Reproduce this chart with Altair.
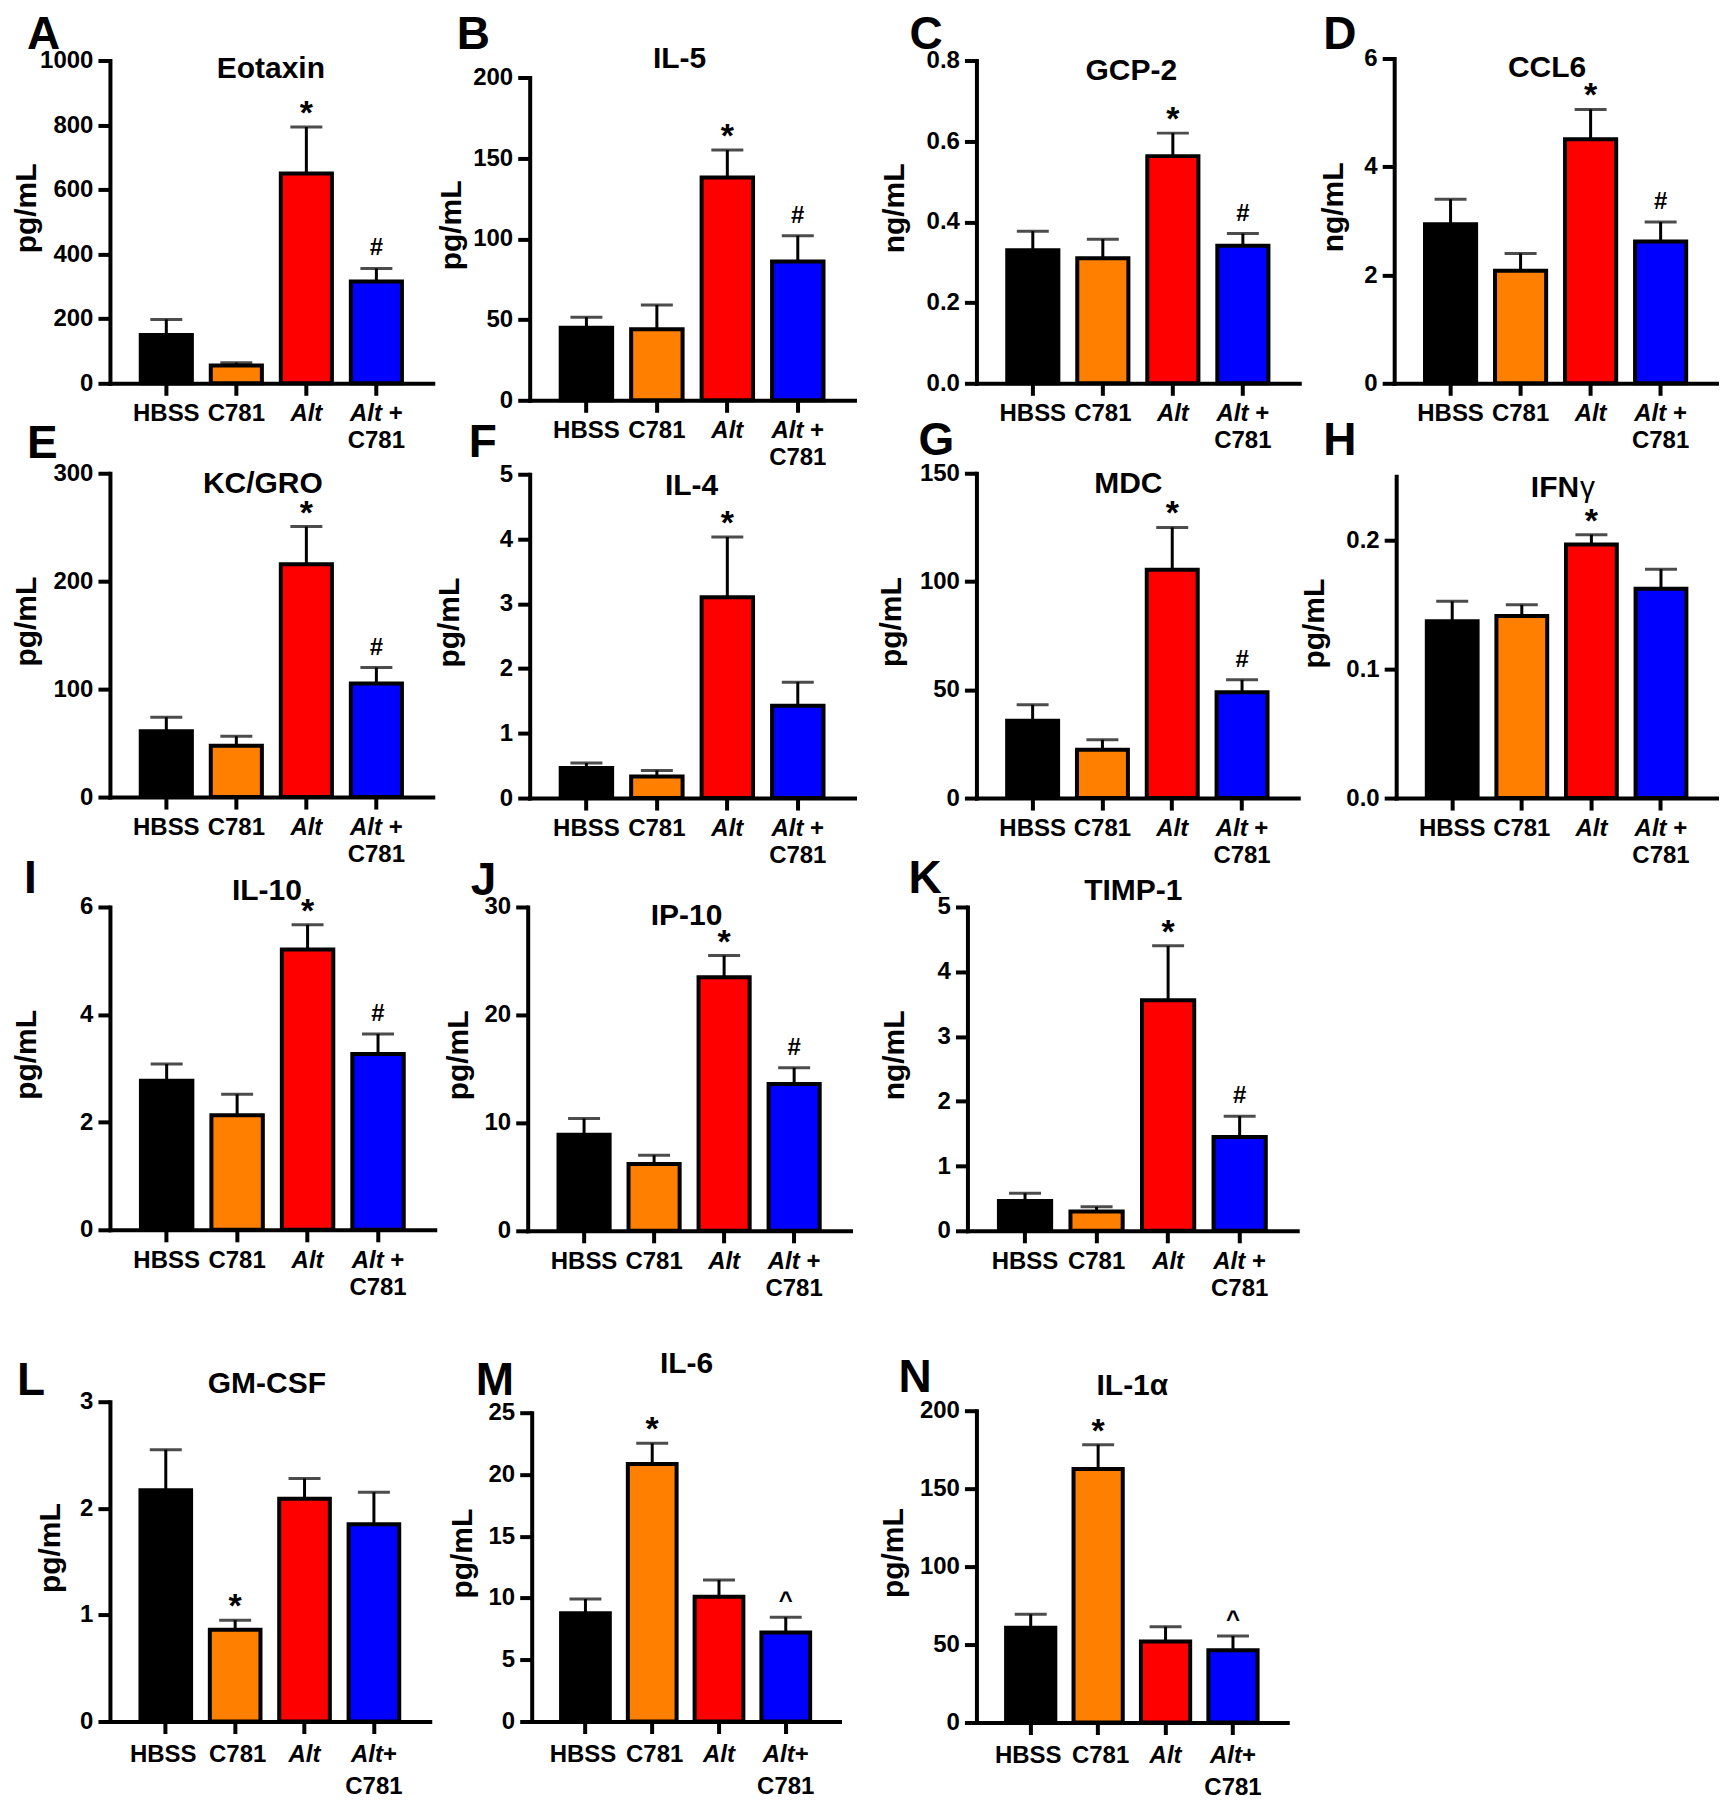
import altair as alt
import pandas as pd

FONT = "Liberation Sans"

groups = ["HBSS", "C781", "Alt", "Alt + C781"]
bar_colors = ["#000000", "#FF8000", "#FF0000", "#0000FF"]

# ---------------- data: mean, SEM, significance marks, y ticks ----------------
eotaxin_mean = [150, 55, 650, 315]
eotaxin_sem = [48, 9, 144, 41]
eotaxin_sig = ["", "", "*", "#"]
eotaxin_ticks = [0, 200, 400, 600, 800, 1000]

il5_mean = [45, 44, 138, 86]
il5_sem = [6.5, 15, 17, 16]
il5_sig = ["", "", "*", "#"]
il5_ticks = [0, 50, 100, 150, 200]

gcp2_mean = [0.33, 0.31, 0.563, 0.341]
gcp2_sem = [0.047, 0.047, 0.057, 0.030]
gcp2_sig = ["", "", "*", "#"]
gcp2_ticks = [0.0, 0.2, 0.4, 0.6, 0.8]

ccl6_mean = [2.94, 2.08, 4.51, 2.62]
ccl6_sem = [0.46, 0.32, 0.55, 0.36]
ccl6_sig = ["", "", "*", "#"]
ccl6_ticks = [0, 2, 4, 6]

kcgro_mean = [61, 47.6, 215.6, 105.2]
kcgro_sem = [13, 8.7, 35, 14.8]
kcgro_sig = ["", "", "*", "#"]
kcgro_ticks = [0, 100, 200, 300]

il4_mean = [0.463, 0.334, 3.10, 1.425]
il4_sem = [0.077, 0.093, 0.93, 0.365]
il4_sig = ["", "", "*", ""]
il4_ticks = [0, 1, 2, 3, 4, 5]

mdc_mean = [35.7, 22.3, 105.4, 48.9]
mdc_sem = [7.4, 4.6, 19.6, 5.7]
mdc_sig = ["", "", "*", "#"]
mdc_ticks = [0, 50, 100, 150]

ifng_mean = [0.1373, 0.1414, 0.1969, 0.1626]
ifng_sem = [0.0155, 0.0088, 0.0077, 0.0152]
ifng_sig = ["", "", "*", ""]
ifng_ticks = [0.0, 0.1, 0.2]
ifng_max = 0.25

il10_mean = [2.77, 2.13, 5.21, 3.27]
il10_sem = [0.31, 0.39, 0.46, 0.37]
il10_sig = ["", "", "*", "#"]
il10_ticks = [0, 2, 4, 6]

ip10_mean = [8.9, 6.2, 23.5, 13.6]
ip10_sem = [1.5, 0.8, 2.0, 1.5]
ip10_sig = ["", "", "*", "#"]
ip10_ticks = [0, 10, 20, 30]

timp1_mean = [0.46, 0.30, 3.56, 1.45]
timp1_sem = [0.12, 0.07, 0.84, 0.32]
timp1_sig = ["", "", "*", "#"]
timp1_ticks = [0, 1, 2, 3, 4, 5]

gmcsf_mean = [2.17, 0.86, 2.09, 1.85]
gmcsf_sem = [0.38, 0.09, 0.19, 0.30]
gmcsf_sig = ["", "*", "", ""]
gmcsf_ticks = [0, 1, 2, 3]

il6_mean = [8.76, 20.85, 10.11, 7.2]
il6_sem = [1.16, 1.67, 1.35, 1.24]
il6_sig = ["", "*", "", "^"]
il6_ticks = [0, 5, 10, 15, 20, 25]

il1a_mean = [60.8, 162.6, 51.9, 46.3]
il1a_sem = [8.6, 15.6, 9.6, 9.2]
il1a_sig = ["", "*", "", "^"]
il1a_ticks = [0, 50, 100, 150, 200]

panels = [
    dict(key="A", title="Eotaxin", unit="pg/mL", mean=eotaxin_mean, sem=eotaxin_sem, sig=eotaxin_sig, ticks=eotaxin_ticks, ymax=eotaxin_ticks[-1], fmt="d"),
    dict(key="B", title="IL-5", unit="pg/mL", mean=il5_mean, sem=il5_sem, sig=il5_sig, ticks=il5_ticks, ymax=il5_ticks[-1], fmt="d"),
    dict(key="C", title="GCP-2", unit="ng/mL", mean=gcp2_mean, sem=gcp2_sem, sig=gcp2_sig, ticks=gcp2_ticks, ymax=gcp2_ticks[-1], fmt=".1f"),
    dict(key="D", title="CCL6", unit="ng/mL", mean=ccl6_mean, sem=ccl6_sem, sig=ccl6_sig, ticks=ccl6_ticks, ymax=ccl6_ticks[-1], fmt="d"),
    dict(key="E", title="KC/GRO", unit="pg/mL", mean=kcgro_mean, sem=kcgro_sem, sig=kcgro_sig, ticks=kcgro_ticks, ymax=kcgro_ticks[-1], fmt="d"),
    dict(key="F", title="IL-4", unit="pg/mL", mean=il4_mean, sem=il4_sem, sig=il4_sig, ticks=il4_ticks, ymax=il4_ticks[-1], fmt="d"),
    dict(key="G", title="MDC", unit="pg/mL", mean=mdc_mean, sem=mdc_sem, sig=mdc_sig, ticks=mdc_ticks, ymax=mdc_ticks[-1], fmt="d"),
    dict(key="H", title="IFNγ", unit="pg/mL", mean=ifng_mean, sem=ifng_sem, sig=ifng_sig, ticks=ifng_ticks, ymax=ifng_max, fmt=".1f"),
    dict(key="I", title="IL-10", unit="pg/mL", mean=il10_mean, sem=il10_sem, sig=il10_sig, ticks=il10_ticks, ymax=il10_ticks[-1], fmt="d"),
    dict(key="J", title="IP-10", unit="pg/mL", mean=ip10_mean, sem=ip10_sem, sig=ip10_sig, ticks=ip10_ticks, ymax=ip10_ticks[-1], fmt="d"),
    dict(key="K", title="TIMP-1", unit="ng/mL", mean=timp1_mean, sem=timp1_sem, sig=timp1_sig, ticks=timp1_ticks, ymax=timp1_ticks[-1], fmt="d"),
    dict(key="L", title="GM-CSF", unit="pg/mL", mean=gmcsf_mean, sem=gmcsf_sem, sig=gmcsf_sig, ticks=gmcsf_ticks, ymax=gmcsf_ticks[-1], fmt="d"),
    dict(key="M", title="IL-6", unit="pg/mL", mean=il6_mean, sem=il6_sem, sig=il6_sig, ticks=il6_ticks, ymax=il6_ticks[-1], fmt="d"),
    dict(key="N", title="IL-1α", unit="pg/mL", mean=il1a_mean, sem=il1a_sem, sig=il1a_sig, ticks=il1a_ticks, ymax=il1a_ticks[-1], fmt="d"),
]

# ---------------- layout (page pixel coordinates) ----------------
COL_X = [8, 440, 880, 1300]
COL_W = [432, 440, 420, 420]
ROW_Y = [8, 383, 797, 1230]
ROW_H = [375, 414, 433, 492]

# let = (left x, cap-top y) of the panel letter; ttl = (centre x, baseline y)
LAYOUT = {
    "A": dict(rc=(0, 0), left=110, right=433, top=60, zero=383, ttl=(271, 78), let=(27, 15), ytx=83),
    "B": dict(rc=(0, 1), left=530, right=855, top=77, zero=400, ttl=(680, 68), let=(457, 15), ytx=78),
    "C": dict(rc=(0, 2), left=977, right=1300, top=60, zero=383, ttl=(1132, 80), let=(910, 15), ytx=82),
    "D": dict(rc=(0, 3), left=1395, right=1718, top=58, zero=383, ttl=(1548, 77), let=(1324, 15), ytx=61),
    "E": dict(rc=(1, 0), left=110, right=433, top=473, zero=797, ttl=(263, 493), let=(27, 425), ytx=83),
    "F": dict(rc=(1, 1), left=530, right=855, top=474, zero=798, ttl=(692, 495), let=(469, 424), ytx=80),
    "G": dict(rc=(1, 2), left=977, right=1299, top=473, zero=798, ttl=(1129, 493), let=(919, 422), ytx=85),
    "H": dict(rc=(1, 3), left=1397, right=1718, top=476, zero=798, ttl=(1580, 497), let=(1324, 422), ytx=82),
    "I": dict(rc=(2, 0), left=110, right=435, top=907, zero=1230, ttl=(267, 900), let=(24, 860), ytx=83),
    "J": dict(rc=(2, 1), left=528, right=851, top=907, zero=1231, ttl=(687, 925), let=(471, 862), ytx=69),
    "K": dict(rc=(2, 2), left=968, right=1298, top=907, zero=1231, ttl=(1134, 900), let=(909, 860), ytx=73),
    "L": dict(rc=(3, 0), left=110, right=430, top=1402, zero=1722, ttl=(267, 1393), let=(17, 1362), ytx=59),
    "M": dict(rc=(3, 1), left=532, right=840, top=1413, zero=1722, ttl=(687, 1373), let=(476, 1362), ytx=69),
    "N": dict(rc=(3, 2), left=977, right=1288, top=1411, zero=1723, ttl=(1133, 1395), let=(899, 1359), ytx=83),
}

SIG_STYLE = {"*": (34, -3), "#": (24, -13), "^": (24, -9)}
LETTER_SIZE = 46
TITLE_SIZE = 30


def text_layer(txt, x, y, size, weight="bold", align="center", baseline="alphabetic"):
    return alt.Chart(pd.DataFrame({"t": [txt]})).mark_text(
        font=FONT, fontSize=size, fontWeight=weight, align=align,
        baseline=baseline, color="black"
    ).encode(text="t:N", x=alt.value(x), y=alt.value(y))


def make_cell(p):
    L = LAYOUT[p["key"]]
    r, c = L["rc"]
    ox, oy, H, W = COL_X[c], ROW_Y[r], ROW_H[r], COL_W[c]
    dx = L["left"] - ox
    w = L["right"] - L["left"]
    yb = L["zero"] - oy
    yt = L["top"] - oy
    oz = yb - H
    last_row = r == 3

    xs = alt.Scale(domain=groups, range=[dx, dx + w], paddingInner=0.27, paddingOuter=0.44)
    ys = alt.Scale(domain=[0, p["ymax"]], range=[yb, yt], nice=False, zero=False)

    xaxis = alt.Axis(labels=False, title=None, offset=oz, ticks=True, domain=True)
    yaxis = alt.Axis(values=p["ticks"], format=p["fmt"], offset=-dx, title=p["unit"],
                     titleX=-L["ytx"], titleY=(yb + yt) / 2 - 14,
                     titleBaseline="middle", titleAlign="center", titleAngle=270)

    def X():
        return alt.X("group:N", scale=xs, axis=xaxis)

    def Y(field):
        return alt.Y(field, scale=ys, axis=yaxis)

    df = pd.DataFrame({
        "group": groups,
        "mean": p["mean"],
        "top": [m + s for m, s in zip(p["mean"], p["sem"])],
        "sig": p["sig"],
    })
    base = alt.Chart(df)

    bars = base.mark_bar(stroke="black", strokeWidth=4).encode(
        x=X(), y=Y("mean:Q"),
        color=alt.Color("group:N", scale=alt.Scale(domain=groups, range=bar_colors), legend=None),
    )
    rules = base.mark_rule(color="black", strokeWidth=3).encode(x=X(), y=Y("mean:Q"), y2="top:Q")
    caps = base.mark_tick(color="black", thickness=3, size=32).encode(x=X(), y=Y("top:Q"))

    layers = [bars, rules, caps]

    for sym, (size, dyv) in SIG_STYLE.items():
        if sym in p["sig"]:
            layers.append(base.transform_filter(alt.datum.sig == sym).mark_text(
                text=sym, font=FONT, fontSize=size, fontWeight="bold", dy=dyv,
                baseline="alphabetic", color="black"
            ).encode(x=X(), y=Y("top:Q")))

    # category labels under the x axis
    lsize = 24
    l1 = yb + (41 if last_row else 38)
    l2 = yb + (73 if last_row else 65)
    a_dx, p_dx = (9, 9) if last_row else (5.6, 12.3)
    h_dx, c_dx = (-2.5, 2.5) if last_row else (0, 0)
    combo = groups[3]
    combo_first, combo_second = combo.split(" + ")

    def lab(gs, ts, y, style="normal", align="center", dxv=0):
        return alt.Chart(pd.DataFrame({"group": gs, "t": ts})).mark_text(
            font=FONT, fontSize=lsize, fontWeight="bold", fontStyle=style, align=align,
            dx=dxv, baseline="alphabetic", color="black"
        ).encode(x=X(), y=alt.value(y), text="t:N")

    layers.append(lab([groups[0]], [groups[0]], l1, dxv=h_dx))
    layers.append(lab([groups[1]], [groups[1]], l1, dxv=c_dx))
    layers.append(lab([groups[2]], [groups[2]], l1, style="italic"))
    layers.append(lab([combo], [combo_first], l1, style="italic", align="right", dxv=a_dx))
    layers.append(lab([combo], ["+"], l1, align="left", dxv=p_dx))
    layers.append(lab([combo], [combo_second], l2))

    # panel title
    tx, ty = L["ttl"]
    if p["title"] == "IFNγ":
        layers.append(text_layer("IFN", tx - ox, ty - oy, TITLE_SIZE, align="right"))
        layers.append(text_layer("γ", tx - ox + 1, ty - oy, TITLE_SIZE, weight="normal", align="left"))
    else:
        layers.append(text_layer(p["title"], tx - ox, ty - oy, TITLE_SIZE))

    # panel letter (top baseline: glyph cap sits ~3px below y)
    lx, ly = L["let"]
    layers.append(text_layer(p["key"], lx - ox, max(0, ly - 3 - oy), LETTER_SIZE, align="left", baseline="top"))

    return alt.layer(*layers).properties(width=W, height=H)


cells = [make_cell(p) for p in panels]
filler = alt.Chart(pd.DataFrame({"a": [0]})).mark_point(opacity=0).encode(
    x=alt.value(0), y=alt.value(0)).properties(width=1, height=1)

ordered = cells[:11] + [filler] + cells[11:]

chart = alt.concat(*ordered, columns=4, spacing=0, bounds="flush", align="each").properties(
    padding=0
).configure_view(stroke=None).configure_axis(
    domainColor="black", domainWidth=4, domainCap="square",
    tickColor="black", tickWidth=4, tickSize=12,
    labelFont=FONT, labelFontSize=24, labelFontWeight="bold", labelColor="black", labelPadding=5,
    titleFont=FONT, titleFontSize=30, titleFontWeight="bold", titleColor="black",
    grid=False,
)

chart.save("out.html", embed_options={"renderer": "svg", "actions": False})
